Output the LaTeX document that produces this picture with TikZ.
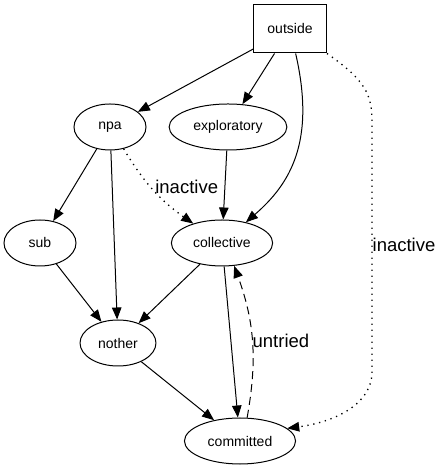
\documentclass[tikz,border=0pt]{standalone}
\usepackage{fontspec}
\setmainfont{Liberation Sans}
\usetikzlibrary{arrows.meta,shapes.geometric}
\tikzset{
  >={Triangle[length=12bp,width=9.5bp]},
  % zustaende
  st/.style={ellipse,draw,line width=1bp,inner xsep=7bp,inner ysep=0pt,
             minimum width=72bp,minimum height=46bp,
             font=\fontsize{14bp}{16bp}\selectfont},
  sbox/.style={rectangle,draw,line width=1bp,minimum width=73bp,
             minimum height=48bp,font=\fontsize{14bp}{16bp}\selectfont},
  % uebergaenge
  tr/.style={->,draw=black,line width=1bp},
  trdot/.style={tr,line width=1.3bp,dash pattern=on 1.3bp off 4.7bp},
  trdash/.style={tr,dash pattern=on 8bp off 5bp},
  lbl/.style={font=\fontsize{18.5bp}{20bp}\selectfont,inner sep=0pt},
}
\begin{document}
\begin{tikzpicture}[x=1bp,y=1bp]
\useasboundingbox (0,0) rectangle (440,472);
  \node[sbox] (outside) at (290,443) {outside};
  \node[st] (npa) at (110,345) {npa};
  \node[st] (exploratory) at (228,345) {exploratory};
  \node[st] (sub) at (40,229) {sub};
  \node[st] (collective) at (222,229) {collective};
  \node[st] (nother) at (118,129) {nother};
  \node[st] (committed) at (240,31) {committed};
  \draw[tr] (outside) -- (npa);
  \draw[tr] (outside) -- (exploratory);
  \draw[tr] (outside) .. controls (316,330) and (290,288) .. (collective);
  \draw[trdot] (outside.south east) .. controls (365,392) and (372,378) .. (372,350)
     -- node[lbl,right,pos=0.49] {inactive} (372,100)
     .. controls (372,68) and (335,50) .. (committed.15);
  \draw[tr] (npa) -- (sub);
  \draw[tr] (npa) -- (nother);
  \draw[trdot] (npa) to[bend right=12] node[lbl,right,pos=0.45,xshift=4bp] {inactive} (collective);
  \draw[tr] (exploratory) -- (collective);
  \draw[tr] (sub) -- (nother);
  \draw[tr] (collective) -- (nother);
  \draw[tr] (collective) -- (committed);
  \draw[trdash] (committed.73) to[bend right=15] node[lbl,right] {untried} (collective.-62);
  \draw[tr] (nother) -- (committed);
\end{tikzpicture}
\end{document}
